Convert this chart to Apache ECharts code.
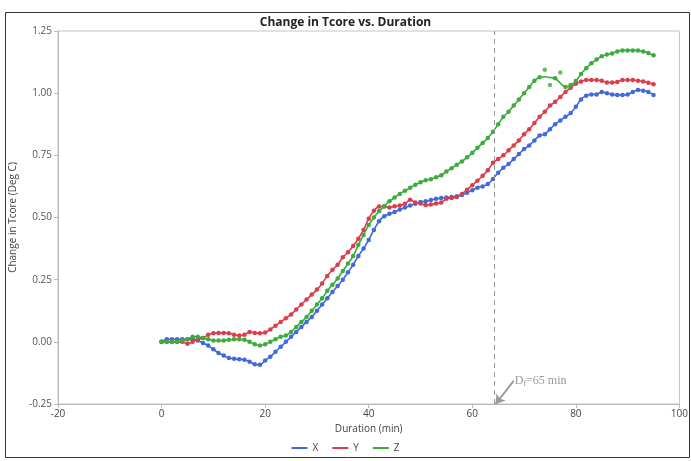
<!DOCTYPE html>
<html>
<head>
<meta charset="utf-8">
<script src="https://cdn.jsdelivr.net/npm/echarts@6/dist/echarts.min.js"></script>
<style>
  html, body { margin: 0; padding: 0; background: #fff; }
  #chart { width: 691px; height: 461px; }
</style>
</head>
<body>
<div id="chart"></div>
<script>
// duration in minutes, one reading per minute
const minutes = Array.from({ length: 96 }, (_, i) => i);

const xVals = [
  0.00, 0.01, 0.01, 0.01, 0.01, 0.01, 0.01, 0.005, -0.005, -0.015,
  -0.03, -0.045, -0.055, -0.065, -0.068, -0.07, -0.072, -0.08, -0.09, -0.092,
  -0.075, -0.06, -0.04, -0.02, 0.0, 0.02, 0.04, 0.06, 0.08, 0.10,
  0.125, 0.15, 0.175, 0.20, 0.225, 0.25, 0.28, 0.31, 0.345, 0.375,
  0.41, 0.45, 0.485, 0.505, 0.515, 0.522, 0.532, 0.54, 0.548, 0.555,
  0.562, 0.565, 0.57, 0.575, 0.578, 0.58, 0.582, 0.585, 0.59, 0.60,
  0.61, 0.62, 0.625, 0.635, 0.655, 0.68, 0.70, 0.715, 0.735, 0.755,
  0.775, 0.79, 0.81, 0.83, 0.835, 0.855, 0.875, 0.89, 0.905, 0.92,
  0.945, 0.975, 0.99, 0.995, 0.995, 1.005, 1.00, 0.995, 0.993, 0.993,
  0.995, 1.005, 1.013, 1.01, 1.005, 0.993
];

const yVals = [
  0.0, 0.0, 0.0, 0.0, 0.0, -0.008, 0.0, 0.01, 0.015, 0.028,
  0.035, 0.036, 0.036, 0.035, 0.028, 0.025, 0.028, 0.04, 0.036, 0.035,
  0.038, 0.05, 0.065, 0.08, 0.095, 0.11, 0.13, 0.15, 0.17, 0.19,
  0.21, 0.235, 0.265, 0.29, 0.31, 0.34, 0.36, 0.385, 0.415, 0.45,
  0.495, 0.527, 0.544, 0.544, 0.54, 0.545, 0.548, 0.555, 0.571, 0.56,
  0.556, 0.55, 0.552, 0.556, 0.56, 0.575, 0.578, 0.582, 0.595, 0.612,
  0.63, 0.648, 0.668, 0.69, 0.72, 0.735, 0.75, 0.77, 0.79, 0.81,
  0.835, 0.855, 0.88, 0.905, 0.925, 0.95, 0.965, 0.985, 1.005, 1.022,
  1.038, 1.047, 1.053, 1.053, 1.053, 1.05, 1.043, 1.043, 1.045, 1.053,
  1.053, 1.053, 1.05, 1.047, 1.042, 1.036
];

const zVals = [
  0.0, 0.0, 0.0, 0.0, 0.005, 0.01, 0.02, 0.02, 0.015, 0.01,
  0.005, 0.005, 0.005, 0.008, 0.01, 0.01, 0.008, 0.0, -0.01, -0.015,
  -0.01, 0.0, 0.01, 0.02, 0.025, 0.04, 0.06, 0.08, 0.10, 0.125,
  0.15, 0.175, 0.205, 0.23, 0.255, 0.285, 0.315, 0.345, 0.39, 0.43,
  0.47, 0.50, 0.525, 0.545, 0.565, 0.58, 0.595, 0.608, 0.62, 0.632,
  0.642, 0.65, 0.654, 0.662, 0.67, 0.685, 0.698, 0.712, 0.725, 0.742,
  0.76, 0.78, 0.80, 0.82, 0.845, 0.875, 0.905, 0.925, 0.95, 0.975,
  1.0, 1.025, 1.05, 1.064, 1.066, 1.063, 1.06, 1.04, 1.025, 1.033,
  1.049, 1.077, 1.10, 1.12, 1.135, 1.148, 1.155, 1.16, 1.168, 1.172,
  1.172, 1.172, 1.172, 1.168, 1.162, 1.152
];

// Z readings that sit off the fitted curve
const zOutliers = [[74, 1.094], [75, 1.033], [77, 1.083]];

const xTicks = [-20, 0, 20, 40, 60, 80, 100];
const yTicks = [-0.25, 0, 0.25, 0.5, 0.75, 1.0, 1.25];
const dfMinute = 64.3;

const colors = { X: '#4169dc', Y: '#dc3c4c', Z: '#3cac3c' };
const font = '"Open Sans", "Liberation Sans", sans-serif';

const chart = echarts.init(document.getElementById('chart'));

function lineSeries(name, vals, extra) {
  const outT = name === 'Z' ? zOutliers.map(p => p[0]) : [];
  return Object.assign({
    name: name,
    type: 'line',
    smooth: 0.3,
    symbol: 'circle',
    symbolSize: 4.5,
    showAllSymbol: true,
    lineStyle: { width: 1.6, color: colors[name] },
    itemStyle: { color: colors[name] },
    data: minutes.map((t, i) =>
      outT.includes(t) ? { value: [t, vals[i]], symbolSize: 0 } : [t, vals[i]]
    ),
    z: 3
  }, extra || {});
}

const option = {
  animation: false,
  textStyle: { fontFamily: font },
  title: {
    text: 'Change in Tcore vs. Duration',
    left: 'center',
    top: 12,
    textStyle: { fontSize: 12, fontWeight: 'bold', color: '#222', fontFamily: font }
  },
  legend: {
    bottom: 3,
    left: 'center',
    icon: 'rect',
    itemWidth: 16,
    itemHeight: 2,
    itemGap: 14,
    textStyle: { fontSize: 10, color: '#444', fontFamily: font },
    data: ['X', 'Y', 'Z']
  },
  grid: {
    left: 57, right: 7, top: 31, bottom: 57,
    show: true, borderColor: '#c4c4c4', borderWidth: 1
  },
  xAxis: {
    type: 'value',
    min: xTicks[0],
    max: xTicks[xTicks.length - 1],
    interval: 20,
    name: 'Duration (min)',
    nameLocation: 'middle',
    nameGap: 19,
    nameTextStyle: { fontSize: 10, color: '#444' },
    axisLine: { onZero: false, lineStyle: { color: '#b8b8b8' } },
    axisTick: { length: 4, lineStyle: { color: '#b8b8b8' } },
    axisLabel: { fontSize: 10, color: '#444', margin: 5 },
    splitLine: { show: false }
  },
  yAxis: {
    type: 'value',
    min: yTicks[0],
    max: yTicks[yTicks.length - 1],
    interval: 0.25,
    name: 'Change in Tcore (Deg C)',
    nameLocation: 'middle',
    nameGap: 40,
    nameTextStyle: { fontSize: 10, color: '#444' },
    axisLine: { show: true, onZero: false, lineStyle: { color: '#b8b8b8' } },
    axisTick: { show: true, length: 4, lineStyle: { color: '#b8b8b8' } },
    axisLabel: { fontSize: 10, color: '#555', margin: 6, formatter: v => v.toFixed(2) },
    splitLine: { show: false }
  },
  graphic: [{
    type: 'rect',
    shape: { x: 5.5, y: 12.5, width: 684, height: 445 },
    style: { fill: 'none', stroke: '#333', lineWidth: 1 },
    silent: true,
    z: -10
  }],
  series: [
    lineSeries('X', xVals),
    lineSeries('Y', yVals),
    lineSeries('Z', zVals, {
      markLine: {
        silent: true,
        symbol: 'none',
        label: { show: false },
        data: [
          { xAxis: dfMinute, lineStyle: { color: '#999', type: [5, 4], width: 1 } },
          [
            { coord: [68.0, -0.157], symbol: 'none' },
            { coord: [dfMinute + 0.2, -0.25], symbol: 'arrow', symbolSize: 9 }
          ]
        ],
        lineStyle: { color: '#999', type: 'solid', width: 2 }
      },
      markPoint: {
        silent: true,
        symbol: 'circle',
        symbolSize: 0,
        data: [{ coord: [68.0, -0.157] }],
        label: {
          show: true,
          position: 'right',
          distance: 1,
          formatter: '{a|D}{s|f}{a|=65 min}',
          rich: {
            a: { fontFamily: '"Liberation Serif", serif', fontSize: 12, color: '#9a9a9a' },
            s: { fontFamily: '"Liberation Serif", serif', fontSize: 8, color: '#9a9a9a', verticalAlign: 'bottom', padding: [6, 0, 0, 0] }
          }
        }
      }
    }),
    {
      name: 'Z',
      type: 'scatter',
      symbol: 'circle',
      symbolSize: 4.5,
      itemStyle: { color: colors.Z },
      data: zOutliers,
      z: 4
    }
  ]
};

chart.setOption(option);
</script>
</body>
</html>
